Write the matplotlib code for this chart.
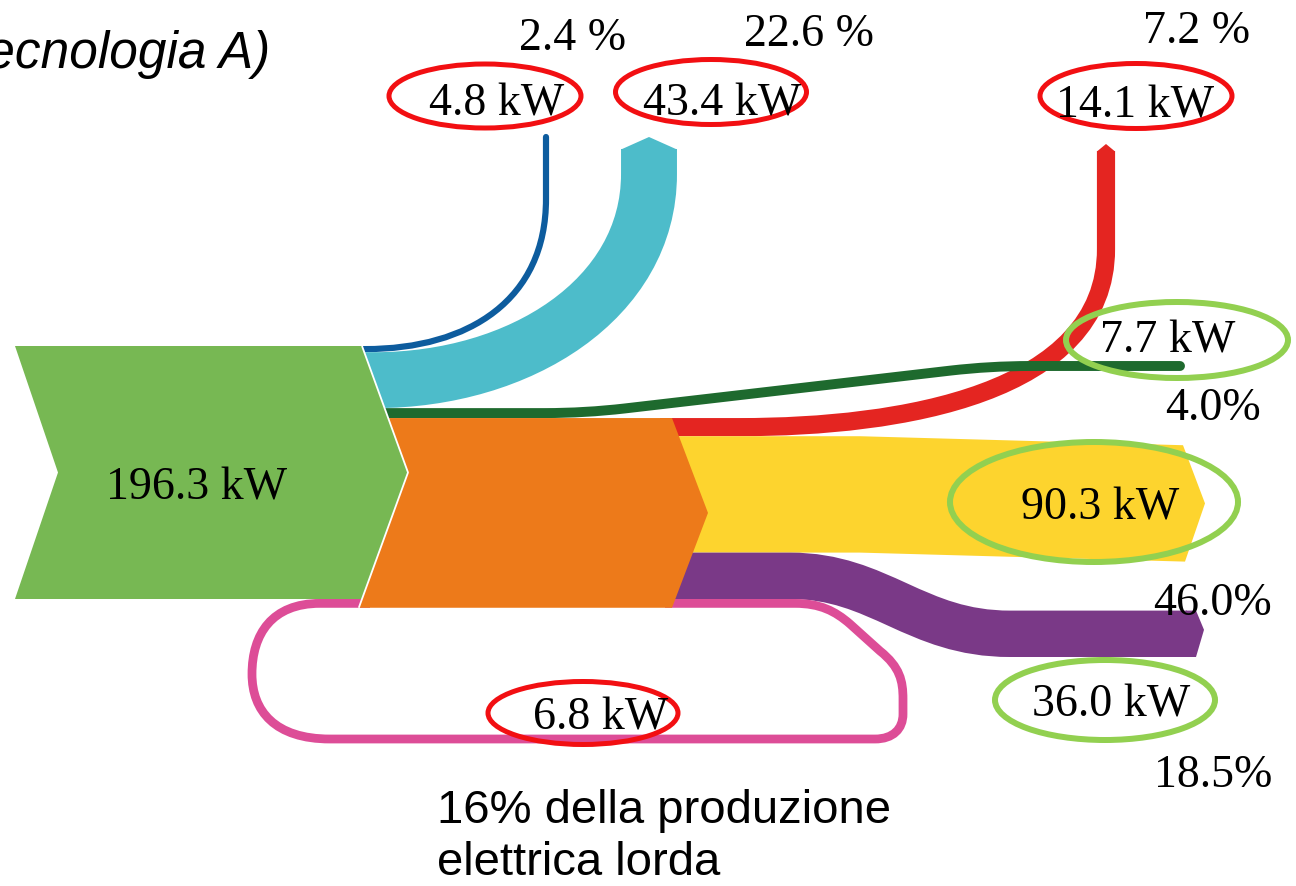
import matplotlib
matplotlib.use("Agg")
import matplotlib.pyplot as plt
from matplotlib.path import Path
from matplotlib.patches import PathPatch, Polygon, Ellipse

# ---- power flows (kW) ----
input_kw = 196.3
top_losses_kw = [4.8, 43.4]      # thin blue branch, wide cyan branch
side_loss_kw = 7.7                # dark green branch
upper_loss_kw = 14.1              # red branch
main_output_kw = 90.3             # yellow arrow
lower_output_kw = 36.0            # purple branch
recirculated_kw = 6.8             # pink loop

top_pct = ["2.4 %", "22.6 %", "7.2 %"]
right_pct = ["4.0%", "46.0%", "18.5%"]
note_lines = ["16% della produzione", "elettrica lorda"]
title_text = "tecnologia A)"

# ---- colours ----
C_INPUT = "#77B853"
C_BLUE = "#0D5C9E"
C_CYAN = "#4DBCCA"
C_DGREEN = "#1E6A2E"
C_ORANGE = "#ED7A1A"
C_RED = "#E42521"
C_YELLOW = "#FDD42E"
C_PURPLE = "#7A3987"
C_PINK = "#DD4D97"
C_RING_RED = "#F20F12"
C_RING_GREEN = "#92D050"

W, H = 1296, 887
fig = plt.figure(figsize=(W / 100, H / 100), dpi=100)
ax = fig.add_axes([0, 0, 1, 1])
ax.set_xlim(0, W)
ax.set_ylim(H, 0)
ax.axis("off")

PT = 72 / 100            # points per pixel
K = 253.0 / input_kw     # pixels per kW

M, L, C, Q = Path.MOVETO, Path.LINETO, Path.CURVE4, Path.CURVE3


def band(verts, codes, kw, color, z, cap="butt"):
    ax.add_patch(PathPatch(Path(verts, codes), facecolor="none", edgecolor=color,
                           lw=K * kw * PT, capstyle=cap, joinstyle="round", zorder=z))


# ---- vertical stacking of the bands at the input node ----
y0 = 347.0
w_blue = K * top_losses_kw[0]
c_blue = y0 + w_blue / 2
w_cyan = K * top_losses_kw[1]
c_cyan = y0 + w_blue + w_cyan / 2
w_dg = K * side_loss_kw
c_dg = y0 + w_blue + w_cyan + w_dg / 2
y_or_top = y0 + w_blue + w_cyan + w_dg
y_in_bot = y0 + K * input_kw
y_or_bot = y_in_bot + K * recirculated_kw

# outlets of the orange node
w_red = K * upper_loss_kw
c_red = y_or_top + w_red / 2
w_yel = K * main_output_kw
y_yel_top = y_or_top + w_red
y_yel_bot = y_yel_top + w_yel
w_pur = K * lower_output_kw
c_pur = y_yel_bot + w_pur / 2
c_pink = y_yel_bot + w_pur + K * recirculated_kw / 2

# ---- input chevron ----
x_in_l, x_in_r, tip_in = 15, 362, 408
y_in_mid = (y0 + y_in_bot) / 2
notch = 58


def chev_x(y):
    if y <= y_in_mid:
        return x_in_r + (y - y0) / (y_in_mid - y0) * (tip_in - x_in_r)
    return tip_in - (y - y_in_mid) / (y_in_bot - y_in_mid) * (tip_in - x_in_r)


# ---- blue branch ----
band([(355, c_blue), (365, c_blue), (470, c_blue), (546, 300), (546, 200), (546, 138)],
     [M, L, C, C, C, L], top_losses_kw[0], C_BLUE, 1, cap="round")

# ---- cyan branch ----
xc = 649
band([(355, c_cyan), (375, c_cyan), (520, c_cyan), (xc, 300), (xc, 175), (xc, 150)],
     [M, L, C, C, C, L], top_losses_kw[1], C_CYAN, 1)
ax.add_patch(Polygon([(xc - w_cyan / 2, 150.5), (xc, 138), (xc + w_cyan / 2, 150.5)],
                     closed=True, facecolor=C_CYAN, edgecolor="none", zorder=1))

# ---- red branch ----
xr = 1106
band([(660, c_red), (740, c_red), (900, c_red), (xr, 395), (xr, 250), (xr, 152)],
     [M, L, C, C, C, L], upper_loss_kw, C_RED, 1)
ax.add_patch(Polygon([(xr - w_red / 2, 152.5), (xr, 145), (xr + w_red / 2, 152.5)],
                     closed=True, facecolor=C_RED, edgecolor="none", zorder=1))

# ---- dark green branch ----
y_dg_end = 367
slope = (y_dg_end - c_dg) / (990 - 585)
band([(380, c_dg), (545, c_dg), (585, c_dg), (625, c_dg + slope * 40),
      (950, y_dg_end - slope * 40), (990, y_dg_end), (1030, y_dg_end), (1180, y_dg_end)],
     [M, L, Q, Q, L, Q, Q, L], side_loss_kw, C_DGREEN, 2, cap="round")

# ---- yellow arrow ----
shift = 9
y_yel_mid = (y_yel_top + y_yel_bot) / 2
ax.add_patch(Polygon([(660, y_yel_top), (860, y_yel_top), (1183, y_yel_top + shift),
                      (1205, y_yel_mid + shift), (1185, y_yel_bot + shift),
                      (860, y_yel_bot), (660, y_yel_bot)],
                     closed=True, facecolor=C_YELLOW, edgecolor="none", zorder=1))

# ---- purple branch ----
cp_end = c_pur + 58
band([(660, c_pur), (790, c_pur), (880, c_pur), (915, cp_end), (1010, cp_end), (1187, cp_end)],
     [M, L, C, C, C, L], lower_output_kw, C_PURPLE, 1)
ax.add_patch(Polygon([(1186, cp_end - w_pur / 2), (1196, cp_end - w_pur / 2),
                      (1204, cp_end - 4), (1196, cp_end + w_pur / 2), (1186, cp_end + w_pur / 2)],
                     closed=True, facecolor=C_PURPLE, edgecolor="none", zorder=1))

# ---- pink recirculation loop ----
yb = 740
band([(665, c_pink), (795, c_pink),
      (820, c_pink), (835, 612), (850, 625),
      (880, 652),
      (900, 668), (903, 682), (903, 700),
      (903, 715),
      (903, 730), (893, yb), (875, yb),
      (330, yb),
      (275, yb), (252, 712), (252, 675),
      (252, 635), (272, c_pink), (320, c_pink),
      (370, c_pink)],
     [M, L, C, C, C, L, C, C, C, L, C, C, C, L, C, C, C, C, C, C, L],
     recirculated_kw, C_PINK, 1)

# ---- orange node ----
x_or_r, tip_or = 672, 708
y_or_mid = (y_or_top + y_or_bot) / 2
ax.add_patch(Polygon([(chev_x(y_or_top), y_or_top), (x_or_r, y_or_top), (tip_or, y_or_mid),
                      (x_or_r, y_or_bot), (chev_x(y_or_bot), y_or_bot), (tip_in, y_in_mid)],
                     closed=True, facecolor=C_ORANGE, edgecolor="none", zorder=3))

# ---- input chevron ----
ax.add_patch(Polygon([(x_in_l, y0), (x_in_r, y0), (tip_in, y_in_mid), (x_in_r, y_in_bot),
                      (x_in_l, y_in_bot), (notch, y_in_mid)],
                     closed=True, facecolor=C_INPUT, edgecolor="none", zorder=4))
ax.plot([x_in_r, tip_in, chev_x(y_or_bot)], [y0, y_in_mid, y_or_bot],
        color="white", lw=1.3, zorder=5, solid_capstyle="butt")

# ---- value rings ----
for (cx, cy, ew, eh) in [(485, 97, 192, 64), (711, 93, 191, 65), (1136, 97, 192, 65),
                         (583, 714, 190, 63)]:
    ax.add_patch(Ellipse((cx, cy), ew, eh, facecolor="none", edgecolor=C_RING_RED,
                         lw=5 * PT, zorder=6))
for (cx, cy, ew, eh) in [(1177, 341, 222, 76), (1094, 503, 288, 120), (1105, 701, 220, 80)]:
    ax.add_patch(Ellipse((cx, cy), ew, eh, facecolor="none", edgecolor=C_RING_GREEN,
                         lw=6 * PT, zorder=6))

# ---- labels ----
serif = dict(family="Liberation Serif", fontsize=33, color="black",
             ha="center", va="baseline", zorder=7)


def kw(v):
    return f"{v:.1f} kW"


ax.text(197, 500, kw(input_kw), **serif)
ax.text(497, 115, kw(top_losses_kw[0]), **serif)
ax.text(722, 115, kw(top_losses_kw[1]), **serif)
ax.text(1135, 118, kw(upper_loss_kw), **serif)
ax.text(1168, 353, kw(side_loss_kw), **serif)
ax.text(1100, 520, kw(main_output_kw), **serif)
ax.text(1111, 717, kw(lower_output_kw), **serif)
ax.text(601, 730, kw(recirculated_kw), **serif)

for s, (x, y) in zip(top_pct, [(573, 50), (809, 46), (1197, 43)]):
    ax.text(x, y, s, **serif)
for s, (x, y) in zip(right_pct, [(1213, 420), (1212, 615), (1213, 787)]):
    ax.text(x, y, s, **serif)

ax.text(270, 68, title_text, family="Liberation Sans", style="italic", fontsize=37,
        ha="right", va="baseline", color="black", zorder=7)
ax.text(437, 823, note_lines[0], family="Liberation Sans", fontsize=34,
        ha="left", va="baseline", color="black", zorder=7)
ax.text(437, 875, note_lines[1], family="Liberation Sans", fontsize=34,
        ha="left", va="baseline", color="black", zorder=7)

fig.savefig("out.png", dpi=100)
